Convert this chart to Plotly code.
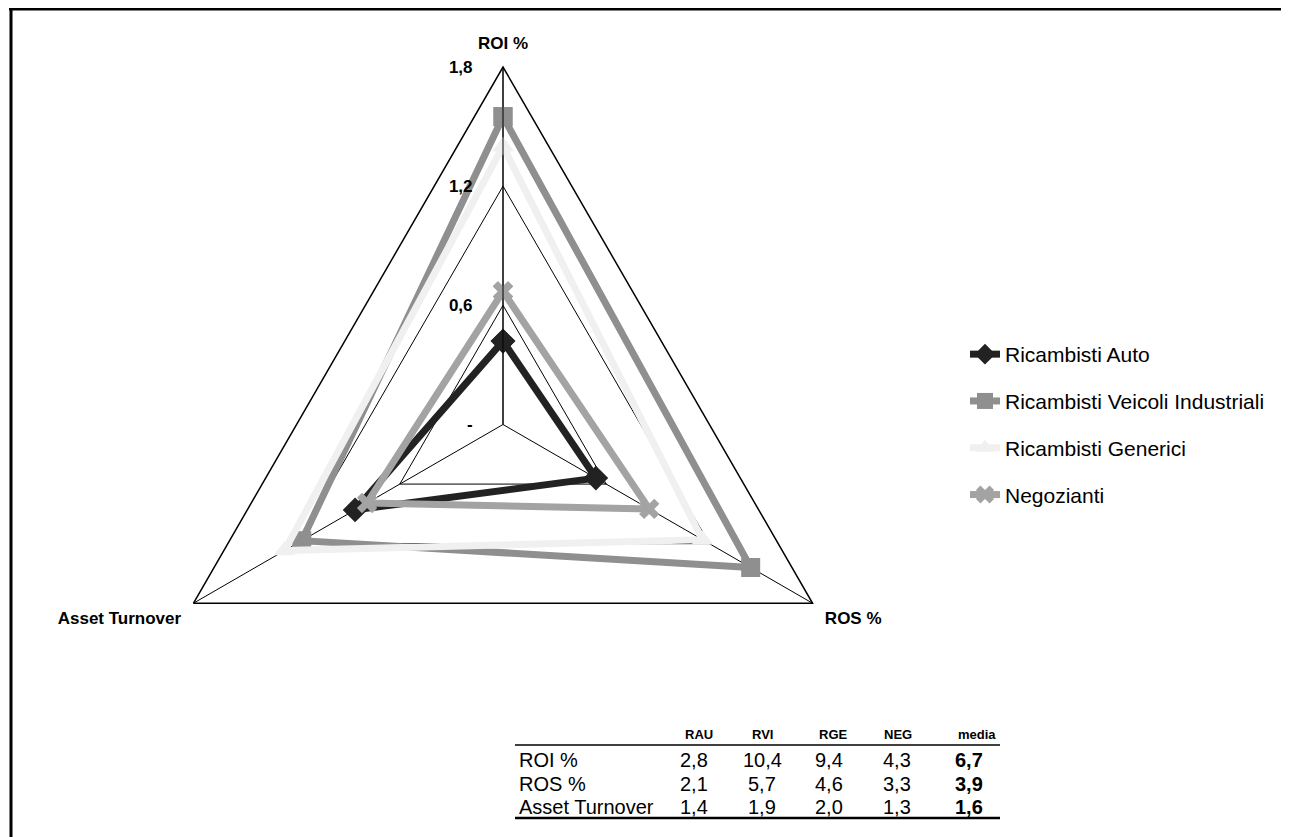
import plotly.graph_objects as go

PAGE_W, PAGE_H = 1289, 837
OFF = 8  # default body margin of the html page
W, H = PAGE_W - OFF, PAGE_H - OFF

# axes (categories)
axes = ["ROI %", "ROS %", "Asset Turnover"]
# normalised values (value / media)
rau = [0.42, 0.54, 0.86]
rvi = [1.55, 1.44, 1.17]
rge = [1.40, 1.16, 1.27]
neg = [0.67, 0.85, 0.79]

series_names = ["Ricambisti Auto", "Ricambisti Veicoli Industriali", "Ricambisti Generici", "Negozianti"]
series_colors = ["#222222", "#8f8f8f", "#f0f0f0", "#a3a3a3"]
series_symbols = ["diamond", "square", "triangle-up", "x"]
series_msize = [19, 19, 19, 18]

radial_ticks = [0, 0.6, 1.2, 1.8]
radial_ticktext = ["-", "0,6", "1,2", "1,8"]

# table
tab_header = ["RAU", "RVI", "RGE", "NEG", "media"]
tab_rows = ["ROI %", "ROS %", "Asset Turnover"]
tab_rau = ["2,8", "2,1", "1,4"]
tab_rvi = ["10,4", "5,7", "1,9"]
tab_rge = ["9,4", "4,6", "2,0"]
tab_neg = ["4,3", "3,3", "1,3"]
tab_media = ["6,7", "3,9", "1,6"]


def px(x):
    return (x - OFF) / W


def py(y):
    return 1 - (y - OFF) / H


fig = go.Figure()
for name, vals, col, sym, ms in zip(series_names, [rau, rvi, rge, neg], series_colors, series_symbols, series_msize):
    fig.add_trace(go.Scatterpolar(
        r=vals + [vals[0]], theta=axes + [axes[0]], name=name, mode="lines+markers",
        line=dict(color=col, width=7),
        marker=dict(symbol=sym, size=ms, color=col, line=dict(width=0)),
        legendgroup=name, cliponaxis=False,
    ))

cx, cy, R = 503, 424.5, 357.5
fig.update_layout(
    width=W, height=H, margin=dict(l=0, r=0, t=0, b=0),
    paper_bgcolor="white", plot_bgcolor="white",
    font=dict(family="Liberation Sans, Arial, sans-serif", color="black"),
    polar=dict(
        domain=dict(x=[px(cx - R), px(cx + R)], y=[py(cy + R), py(cy - R)]),
        gridshape="linear", bgcolor="white",
        radialaxis=dict(range=[0, 1.8], tickvals=radial_ticks, ticktext=radial_ticktext,
                        angle=90, showline=True, linecolor="black", linewidth=1,
                        gridcolor="black", gridwidth=1,
                        ticks="outside", ticklen=24, tickcolor="rgba(0,0,0,0)",
                        tickangle=90, side="counterclockwise",
                        tickfont=dict(size=17, weight="bold")),
        angularaxis=dict(rotation=90, direction="clockwise", linecolor="black", linewidth=1.5,
                         gridcolor="black", gridwidth=1, showgrid=True,
                         ticks="outside", ticklen=10, tickcolor="rgba(0,0,0,0)",
                         tickfont=dict(size=17, weight="bold")),
    ),
    legend=dict(x=px(965), y=py(334), xanchor="left", yanchor="top",
                font=dict(size=21), tracegroupgap=16.5, bgcolor="rgba(0,0,0,0)"),
    showlegend=True,
)

# border
fig.add_shape(type="line", xref="paper", yref="paper", x0=px(9), x1=1, y0=py(9), y1=py(9),
              line=dict(color="black", width=3))
fig.add_shape(type="line", xref="paper", yref="paper", x0=px(11), x1=px(11), y0=0, y1=py(9),
              line=dict(color="black", width=3))

# table
head_x = [699, 762, 833, 898, 977]
val_x = [694, 762, 829, 897, 969]
row_y = [760, 784, 807]
for hx, h in zip(head_x, tab_header):
    fig.add_annotation(xref="paper", yref="paper", x=px(hx), y=py(734), text=f"<b>{h}</b>",
                       showarrow=False, font=dict(size=13), xanchor="center", yanchor="middle")
for i, rname in enumerate(tab_rows):
    fig.add_annotation(xref="paper", yref="paper", x=px(517), y=py(row_y[i]), text=rname,
                       showarrow=False, font=dict(size=20), xanchor="left", yanchor="middle")
    for j, colvals in enumerate([tab_rau, tab_rvi, tab_rge, tab_neg, tab_media]):
        t = colvals[i] if j < 4 else f"<b>{colvals[i]}</b>"
        fig.add_annotation(xref="paper", yref="paper", x=px(val_x[j]), y=py(row_y[i]), text=t,
                           showarrow=False, font=dict(size=20), xanchor="center", yanchor="middle")
fig.add_shape(type="line", xref="paper", yref="paper", x0=px(515), x1=px(1000), y0=py(745), y1=py(745),
              line=dict(color="black", width=1.5))
fig.add_shape(type="line", xref="paper", yref="paper", x0=px(515), x1=px(1000), y0=py(818), y1=py(818),
              line=dict(color="black", width=2.5))

fig.write_html("out.html")
